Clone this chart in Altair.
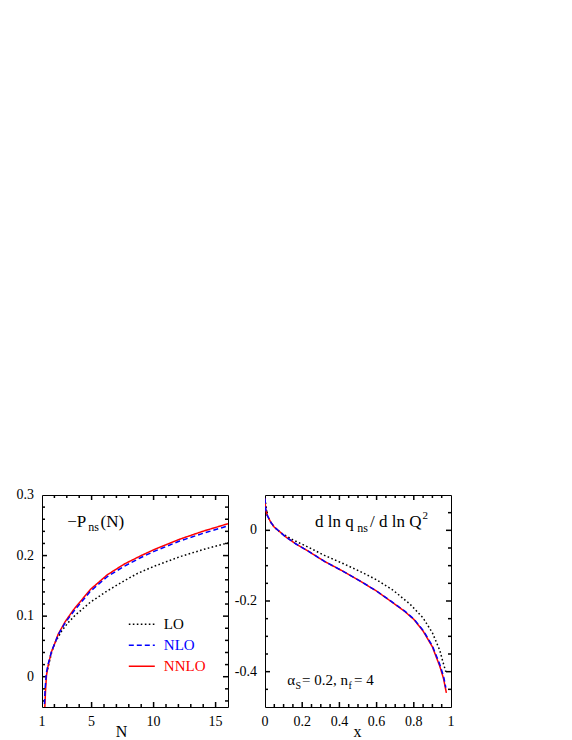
import altair as alt
import pandas as pd

FONT = "Liberation Serif"
SERIES = ["LO", "NLO", "NNLO"]
COLORS = ["#000000", "#0000ff", "#ff0000"]
DASHES = [[1.6, 2.4], [5, 3], [1, 0]]
W, H = 186, 212
TICK_W = 1.5

# ---- left panel: -P_ns(N) ----
lo_N = [1.45, 1.8, 2.1, 2.6, 3.1, 3.65, 4.9, 6.25, 7.6, 8.7, 10, 12.1, 14, 16]
lo_P = [0.012, 0.042, 0.058, 0.076, 0.089, 0.101, 0.123, 0.1415, 0.158, 0.1705, 0.182, 0.198, 0.21, 0.221]
nlo_N = [1.2, 1.25, 1.35, 1.5, 1.77, 2.03, 2.3, 2.87, 3.56, 4.9, 6.25, 7.6, 8.9, 10, 12.1, 14, 16]
nlo_P = [-0.045, -0.02, 0.006, 0.021, 0.042, 0.055, 0.069, 0.089, 0.108, 0.141, 0.165, 0.182, 0.196, 0.2066, 0.224, 0.2368, 0.249]
nnlo_N = [1.23, 1.28, 1.36, 1.5, 1.76, 2.03, 2.3, 2.87, 3.56, 4.9, 6.25, 7.6, 8.9, 10, 12.1, 14, 16]
nnlo_P = [-0.05, -0.025, 0.002, 0.019, 0.041, 0.055, 0.070, 0.091, 0.111, 0.144, 0.168, 0.1856, 0.199, 0.2095, 0.227, 0.2403, 0.2526]

# ---- right panel: d ln q_ns / d ln Q^2 ----
lo_x = [0.0, 0.012, 0.03, 0.05, 0.085, 0.12, 0.15, 0.23, 0.32, 0.42, 0.51, 0.6, 0.69, 0.78, 0.85, 0.9, 0.94, 0.958, 0.972]
lo_q = [0.09, 0.043, 0.024, 0.009, -0.007, -0.018, -0.027, -0.047, -0.071, -0.094, -0.116, -0.14, -0.17, -0.209, -0.248, -0.29, -0.34, -0.375, -0.40]
nlo_x = [0.0, 0.003, 0.012, 0.03, 0.048, 0.075, 0.11, 0.165, 0.23, 0.32, 0.42, 0.51, 0.6, 0.69, 0.75, 0.8, 0.85, 0.9, 0.94, 0.96, 0.972]
nlo_q = [0.09, 0.061, 0.0425, 0.024, 0.01, -0.002, -0.018, -0.038, -0.058, -0.088, -0.116, -0.143, -0.172, -0.205, -0.228, -0.251, -0.283, -0.327, -0.38, -0.413, -0.445]
nnlo_x = [0.0, 0.003, 0.012, 0.03, 0.048, 0.075, 0.11, 0.165, 0.23, 0.32, 0.42, 0.51, 0.6, 0.69, 0.75, 0.8, 0.85, 0.9, 0.94, 0.96, 0.975]
nnlo_q = [0.09, 0.061, 0.0425, 0.024, 0.01, -0.002, -0.018, -0.038, -0.058, -0.088, -0.116, -0.143, -0.172, -0.206, -0.229, -0.252, -0.285, -0.33, -0.385, -0.42, -0.46]

# tick values and tick labels
L_XLAB = [1, 5, 10, 15]
L_XLAB_TXT = ["1", "5", "10", "15"]
L_XMAJ = [5, 10, 15]
L_XMIN = [2, 3, 4, 6, 7, 8, 9, 11, 12, 13, 14]
L_YLAB = [0, 0.1, 0.2, 0.3]
L_YLAB_TXT = ["0", "0.1", "0.2", "0.3"]
L_YMAJ = [0, 0.1, 0.2]
L_YMIN = [-0.04, -0.02, 0.02, 0.04, 0.06, 0.08, 0.12, 0.14, 0.16, 0.18, 0.22, 0.24, 0.26, 0.28]
R_XLAB = [0, 0.2, 0.4, 0.6, 0.8, 1]
R_XLAB_TXT = ["0", "0.2", "0.4", "0.6", "0.8", "1"]
R_XMAJ = [0.2, 0.4, 0.6, 0.8]
R_XMIN = [0.05, 0.1, 0.15, 0.25, 0.3, 0.35, 0.45, 0.5, 0.55, 0.65, 0.7, 0.75, 0.85, 0.9, 0.95]
R_YLAB = [0, -0.2, -0.4]
R_YLAB_TXT = ["0", "-0.2", "-0.4"]
R_YMAJ = [0, -0.2, -0.4]
R_YMIN = [0.05, -0.05, -0.1, -0.15, -0.25, -0.3, -0.35, -0.45]


def long_df(xname, parts):
    rows = []
    for s, xs, vs in parts:
        for a, b in zip(xs, vs):
            rows.append({xname: a, "v": b, "series": s})
    return pd.DataFrame(rows)


left_df = long_df("N", [("LO", lo_N, lo_P), ("NNLO", nnlo_N, nnlo_P), ("NLO", nlo_N, nlo_P)])
right_df = long_df("x", [("LO", lo_x, lo_q), ("NNLO", nnlo_x, nnlo_q), ("NLO", nlo_x, nlo_q)])


def text_layer(s, x, y, size, align="left"):
    return alt.Chart(pd.DataFrame({"t": [s]})).mark_text(
        font=FONT, fontSize=size, align=align, baseline="alphabetic", color="black"
    ).encode(text="t:N", x=alt.value(x), y=alt.value(y))


def xticks(vals, xs, length):
    d = pd.DataFrame({"t": vals})
    bottom = alt.Chart(d).mark_rule(color="black", strokeWidth=TICK_W).encode(
        x=alt.X("t:Q", scale=xs, axis=None), y=alt.value(H), y2=alt.value(H - length))
    top = alt.Chart(d).mark_rule(color="black", strokeWidth=TICK_W).encode(
        x=alt.X("t:Q", scale=xs, axis=None), y=alt.value(0), y2=alt.value(length))
    return [bottom, top]


def yticks(vals, ys, length):
    d = pd.DataFrame({"t": vals})
    left = alt.Chart(d).mark_rule(color="black", strokeWidth=TICK_W).encode(
        y=alt.Y("t:Q", scale=ys, axis=None), x=alt.value(0), x2=alt.value(length))
    right = alt.Chart(d).mark_rule(color="black", strokeWidth=TICK_W).encode(
        y=alt.Y("t:Q", scale=ys, axis=None), x=alt.value(W), x2=alt.value(W - length))
    return [left, right]


def xlabels(vals, txt, xs):
    d = pd.DataFrame({"t": vals, "lab": txt})
    return alt.Chart(d).mark_text(font=FONT, fontSize=14, align="center", baseline="top",
                                  color="black").encode(
        x=alt.X("t:Q", scale=xs, axis=None), y=alt.value(H + 8), text="lab:N")


def ylabels(vals, txt, ys):
    d = pd.DataFrame({"t": vals, "lab": txt})
    return alt.Chart(d).mark_text(font=FONT, fontSize=14, align="right", baseline="middle",
                                  color="black").encode(
        y=alt.Y("t:Q", scale=ys, axis=None), x=alt.value(-8), text="lab:N")


def panel(df, xf, xdom, ydom, xlab, xlab_txt, xmaj, xmin, ylab, ylab_txt, ymaj, ymin,
          xtitle, title_x, legend, texts):
    xs = alt.Scale(domain=xdom, nice=False, zero=False)
    ys = alt.Scale(domain=ydom, nice=False, zero=False)
    col = alt.Color("series:N", scale=alt.Scale(domain=SERIES, range=COLORS), legend=legend)
    dash = alt.StrokeDash("series:N", scale=alt.Scale(domain=SERIES, range=DASHES), legend=legend)
    lines = alt.Chart(df).mark_line(clip=True, strokeWidth=1.5).encode(
        x=alt.X(f"{xf}:Q", scale=xs, axis=None),
        y=alt.Y("v:Q", scale=ys, axis=None),
        color=col, strokeDash=dash,
    )
    layers = (xticks(xmaj, xs, 5) + xticks(xmin, xs, 3)
              + yticks(ymaj, ys, 5) + yticks(ymin, ys, 3)
              + [lines, xlabels(xlab, xlab_txt, xs), ylabels(ylab, ylab_txt, ys),
                 text_layer(xtitle, title_x, H + 30, 16, align="center")]
              + texts)
    return alt.layer(*layers).properties(width=W, height=H)


legend = alt.Legend(orient="none", legendX=85.8, legendY=121.8, title=None,
                    symbolType="stroke", symbolSize=676, symbolStrokeWidth=1.5,
                    labelFont=FONT, labelFontSize=15, labelOffset=8, clipHeight=15,
                    rowPadding=5, padding=0,
                    labelColor={"expr": "datum.label == 'LO' ? '#000000' : datum.label == 'NLO' ? '#0000ff' : '#ff0000'"})

left_texts = [
    text_layer("\u2212P", 25.2, 32, 17),
    text_layer("ns", 46.2, 36, 12),
    text_layer("(N)", 58.5, 32, 17),
]
right_texts = [
    text_layer("d ln q", 50, 32, 17),
    text_layer("ns", 92.3, 37, 12),
    text_layer("/ d ln Q", 105, 32, 17),
    text_layer("2", 157.5, 24, 11),
    text_layer("\u03b1", 22.3, 190.3, 15),
    text_layer("S", 30.5, 193.5, 10),
    text_layer("= 0.2, n", 37, 190.3, 15),
    text_layer("f", 83.5, 193.5, 10),
    text_layer("= 4", 89, 190.3, 15),
]

left = panel(left_df, "N", [1, 16], [-0.05, 0.3], L_XLAB, L_XLAB_TXT, L_XMAJ, L_XMIN,
             L_YLAB, L_YLAB_TXT, L_YMAJ, L_YMIN, "N", 79.5, legend, left_texts)
right = panel(right_df, "x", [0, 1], [-0.5, 0.1], R_XLAB, R_XLAB_TXT, R_XMAJ, R_XMIN,
              R_YLAB, R_YLAB_TXT, R_YMAJ, R_YMIN, "x", 92.6, None, right_texts)

chart = alt.hconcat(left, right, spacing=4).resolve_scale(
    color="independent", strokeDash="independent"
).properties(
    padding={"left": 8, "top": 479, "right": 0, "bottom": 0}
).configure_view(stroke="black", strokeWidth=1).configure_text(font=FONT)

chart.save("out.html", embed_options={"renderer": "svg", "actions": False})
